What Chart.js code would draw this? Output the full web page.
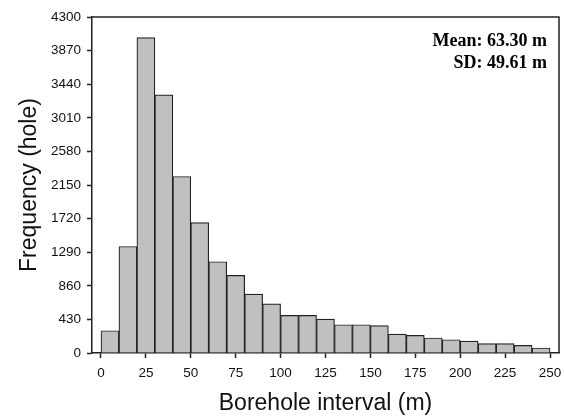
<!DOCTYPE html>
<html>
<head>
<meta charset="utf-8">
<script src="https://cdn.jsdelivr.net/npm/chart.js@4.4.1/dist/chart.umd.min.js"></script>
<style>
  html, body { margin: 0; padding: 0; background: #fff; }
  #wrap { width: 565px; height: 417px; }
</style>
</head>
<body>
<div id="wrap"><canvas id="hist"></canvas></div>
<script>
// histogram bins (m), 10 m wide
const binStart = [0, 10, 20, 30, 40, 50, 60, 70, 80, 90, 100, 110, 120, 130, 140, 150, 160, 170, 180, 190, 200, 210, 220, 230, 240];
const binWidth = 10;
const counts = [285, 1363, 4036, 3303, 2259, 1670, 1168, 993, 754, 630, 481, 481, 435, 362, 362, 350, 243, 225, 192, 170, 153, 119, 119, 97, 64];
const xTicks = [0, 25, 50, 75, 100, 125, 150, 175, 200, 225, 250];
const yTicks = [0, 430, 860, 1290, 1720, 2150, 2580, 3010, 3440, 3870, 4300];
const statLines = ["Mean: 63.30 m", "SD: 49.61 m"];

const points = binStart.map((b, i) => ({ x: b + binWidth / 2, y: counts[i] }));

// box around the plot + stats text
const frame = {
  id: "frame",
  afterDraw(c) {
    const a = c.chartArea, ctx = c.ctx;
    ctx.save();
    ctx.strokeStyle = "#222";
    ctx.lineWidth = 1.5;
    ctx.beginPath();
    ctx.moveTo(a.left, a.top);
    ctx.lineTo(a.right, a.top);
    ctx.lineTo(a.right, a.bottom);
    ctx.stroke();
    ctx.fillStyle = "#000";
    ctx.font = "bold 18px 'Liberation Serif', 'Times New Roman', serif";
    ctx.textAlign = "right";
    ctx.textBaseline = "middle";
    ctx.fillText(statLines[0], a.right - 12, a.top + 24);
    ctx.fillText(statLines[1], a.right - 12, a.top + 46);
    ctx.restore();
  }
};

const plain = v => String(v);

new Chart(document.getElementById("hist"), {
  type: "bar",
  data: {
    datasets: [{
      data: points,
      backgroundColor: "#c0c0c0",
      borderColor: "#222",
      borderWidth: 1.2,
      barPercentage: 1,
      categoryPercentage: 1
    }]
  },
  options: {
    responsive: true,
    maintainAspectRatio: false,
    animation: false,
    layout: { padding: { top: 17, right: 6, left: 0, bottom: 0 } },
    plugins: { legend: { display: false }, tooltip: { enabled: false } },
    scales: {
      x: {
        type: "linear",
        offset: false,
        min: -5,
        max: 255,
        afterBuildTicks: s => { s.ticks = xTicks.map(v => ({ value: v })); },
        afterFit: s => { s.height = 64; s.paddingLeft = 0; s.paddingRight = 0; },
        grid: { offset: false, drawOnChartArea: false, drawTicks: true, tickLength: 5, tickColor: "#222", tickWidth: 1.5 },
        border: { display: true, color: "#222", width: 1.5 },
        ticks: { color: "#111", font: { family: "'Liberation Sans', Arial", size: 13.5 }, padding: 7, maxRotation: 0, autoSkip: false, callback: plain },
        title: { display: true, text: "Borehole interval (m)", color: "#111", font: { family: "'Liberation Sans', Arial", size: 23 }, padding: { top: 6, bottom: 0 } }
      },
      y: {
        min: 0,
        max: 4300,
        afterBuildTicks: s => { s.ticks = yTicks.map(v => ({ value: v })); },
        afterFit: s => { s.width = 92; s.paddingTop = 0; s.paddingBottom = 0; },
        grid: { drawOnChartArea: false, drawTicks: true, tickLength: 5, tickColor: "#222", tickWidth: 1.5 },
        border: { display: true, color: "#222", width: 1.5 },
        ticks: { color: "#111", font: { family: "'Liberation Sans', Arial", size: 13.5 }, padding: 6, autoSkip: false, callback: plain },
        title: { display: true, text: "Frequency (hole)", color: "#111", font: { family: "'Liberation Sans', Arial", size: 23 }, padding: { top: 16, bottom: 4 } }
      }
    }
  },
  plugins: [frame]
});
</script>
</body>
</html>
